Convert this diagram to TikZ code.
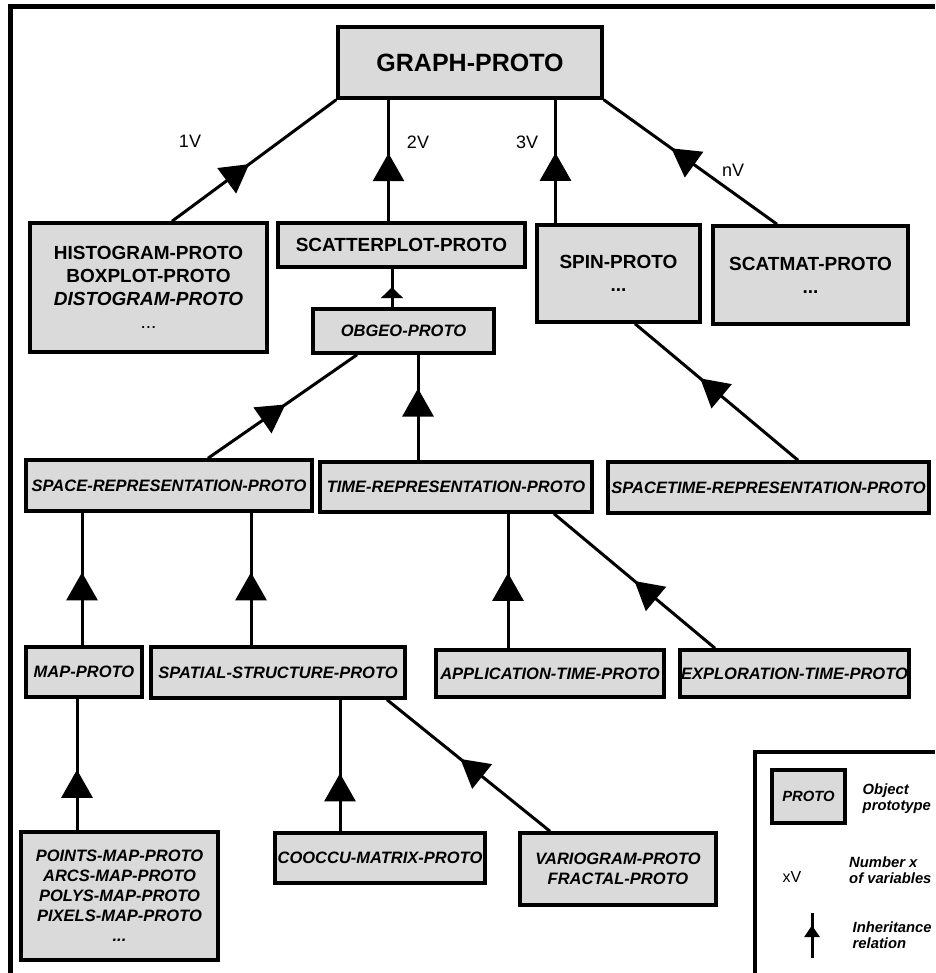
\documentclass[tikz,border=0pt]{standalone}
\usepackage{fontspec}
\setmainfont{Liberation Sans}
\usetikzlibrary{arrows.meta,decorations.markings}
\definecolor{boxgrey}{HTML}{DADADA}
\begin{document}
\begin{tikzpicture}[x=1pt,y=-1pt,
  proto/.style={draw=black,line width=3.5pt,fill=boxgrey,inner sep=0pt,align=center,
    font=\fontsize{19}{23}\selectfont\bfseries},
  iproto/.style={proto,font=\fontsize{16.5}{20}\selectfont\bfseries\itshape},
  link/.style={line width=3pt,postaction={decorate},
    decoration={markings,mark=at position #1 with {\arrow{Triangle[length=28pt,width=31pt]}}}},
  link/.default=0.5,
  smalllink/.style={line width=3pt,postaction={decorate},
    decoration={markings,mark=at position #1 with {\arrow{Triangle[length=11pt,width=22pt]}}}},
  smalllink/.default=0.52,
  varlabel/.style={inner sep=0pt,font=\fontsize{18}{20}\selectfont},
  legtext/.style={inner sep=0pt,align=left,anchor=west,font=\fontsize{14.8}{16}\selectfont\bfseries\itshape}
]
\useasboundingbox (0,0) rectangle (935,973);

% outer frame (top and left edges)
\draw[line width=5pt] (10,973) -- (10,6.5) -- (935,6.5);

% prototype boxes
\node[proto,minimum width=264pt,minimum height=71pt,font=\fontsize{25}{30}\selectfont\bfseries] (graph) at (470,62.5) {GRAPH-PROTO};
\node[proto,minimum width=237pt,minimum height=129pt] (hist) at (148.5,287.5)
  {HISTOGRAM-PROTO\\BOXPLOT-PROTO\\\textit{DISTOGRAM-PROTO}\\\mdseries ...};
\node[proto,minimum width=247pt,minimum height=44pt] (scatter) at (401.5,245) {SCATTERPLOT-PROTO};
\node[proto,minimum width=163pt,minimum height=97pt] (spin) at (618.5,273.5) {SPIN-PROTO\\...};
\node[proto,minimum width=195pt,minimum height=98pt] (scatmat) at (810.5,275) {SCATMAT-PROTO\\...};
\node[iproto,minimum width=181pt,minimum height=44pt] (obgeo) at (403.5,331) {OBGEO-PROTO};
\node[iproto,minimum width=286pt,minimum height=51pt] (spacerep) at (169,485.5) {SPACE-REPRESENTATION-PROTO};
\node[iproto,minimum width=272pt,minimum height=50pt] (timerep) at (456,487) {TIME-REPRESENTATION-PROTO};
\node[iproto,minimum width=321pt,minimum height=51pt] (spacetime) at (768.5,487.5) {SPACETIME-REPRESENTATION-PROTO};
\node[iproto,minimum width=116pt,minimum height=50pt] (map) at (84,672) {MAP-PROTO};
\node[iproto,minimum width=254pt,minimum height=51pt] (spatial) at (278,672.5) {SPATIAL-STRUCTURE-PROTO};
\node[iproto,minimum width=228pt,minimum height=47pt] (app) at (550,673.5) {APPLICATION-TIME-PROTO};
\node[iproto,minimum width=229pt,minimum height=47pt] (expl) at (794.5,673.5) {EXPLORATION-TIME-PROTO};
\node[iproto,minimum width=197pt,minimum height=128pt] (points) at (119.5,896)
  {POINTS-MAP-PROTO\\ARCS-MAP-PROTO\\POLYS-MAP-PROTO\\PIXELS-MAP-PROTO\\...};
\node[iproto,minimum width=210pt,minimum height=50pt] (cooccu) at (380,858) {COOCCU-MATRIX-PROTO};
\node[iproto,minimum width=196pt,minimum height=72pt] (vario) at (618,869)
  {VARIOGRAM-PROTO\\FRACTAL-PROTO};

% inheritance connectors (child -> parent)
\draw[link=0.47] ([xshift=23.5pt]hist.north) -- (graph.south west);
\draw[link=0.56] ([xshift=-13pt]scatter.north) -- ([xshift=-13pt]scatter.north |- graph.south);
\draw[link=0.57] ([xshift=-63pt]spin.north) -- ([xshift=-63pt]spin.north |- graph.south);
\draw[link=0.61] ([xshift=-33.5pt]scatmat.north) -- (graph.south east);
\draw[smalllink] ([xshift=-11.5pt]obgeo.north) -- ([xshift=-11.5pt]obgeo.north |- scatter.south);
\draw[link=0.52] ([xshift=39pt]spacerep.north) -- ([xshift=-46.5pt]obgeo.south);
\draw[link=0.68] ([xshift=-38pt]timerep.north) -- ([xshift=-38pt]timerep.north |- obgeo.south);
\draw[link=0.6] ([xshift=29.5pt]spacetime.north) -- ([xshift=16.5pt]spin.south);
\draw[link=0.55] ([xshift=-2pt]map.north) -- ([xshift=-2pt]map.north |- spacerep.south);
\draw[link=0.55] ([xshift=-27pt]spatial.north) -- ([xshift=-27pt]spatial.north |- spacerep.south);
\draw[link=0.56] ([xshift=-42pt]app.north) -- ([xshift=-42pt]app.north |- timerep.south);
\draw[link=0.5] ([xshift=-79.5pt]expl.north) -- ([xshift=98pt]timerep.south);
\draw[link=0.46] ([xshift=-42.5pt]points.north) -- ([xshift=-42.5pt]points.north |- map.south);
\draw[link=0.44] ([xshift=-40pt]cooccu.north) -- ([xshift=-40pt]cooccu.north |- spatial.south);
\draw[link=0.55] ([xshift=-68pt]vario.north) -- ([xshift=109pt]spatial.south);

% number-of-variables labels
\node[varlabel] (v1) at (190,141) {1V};
\node[varlabel] (v2) at (418,142) {2V};
\node[varlabel] (v3) at (527,142) {3V};
\node[varlabel] (vn) at (733,170) {nV};

% legend
\draw[line width=4.5pt] (755,973) -- (755,752) -- (935,752);
\node[proto,minimum width=73pt,minimum height=53pt,font=\fontsize{14.8}{17}\selectfont\bfseries\itshape] (legproto) at (808.5,796.5) {PROTO};
\node[legtext] (legprototext) at (862.5,799) {Object\\prototype};
\node[inner sep=0pt,font=\fontsize{16}{18}\selectfont] (legxv) at (792,877) {xV};
\node[legtext] (legxvtext) at (849,870) {Number x\\of variables};
\coordinate (legbot) at (812,958);
\coordinate (legtop) at (812,913);
\draw[line width=3pt,postaction={decorate},decoration={markings,mark=at position 0.73 with {\arrow{Triangle[length=12pt,width=15pt]}}}] (legbot) -- (legtop);
\node[legtext] (leginhtext) at (852.5,935.5) {Inheritance\\relation};
\end{tikzpicture}
\end{document}
